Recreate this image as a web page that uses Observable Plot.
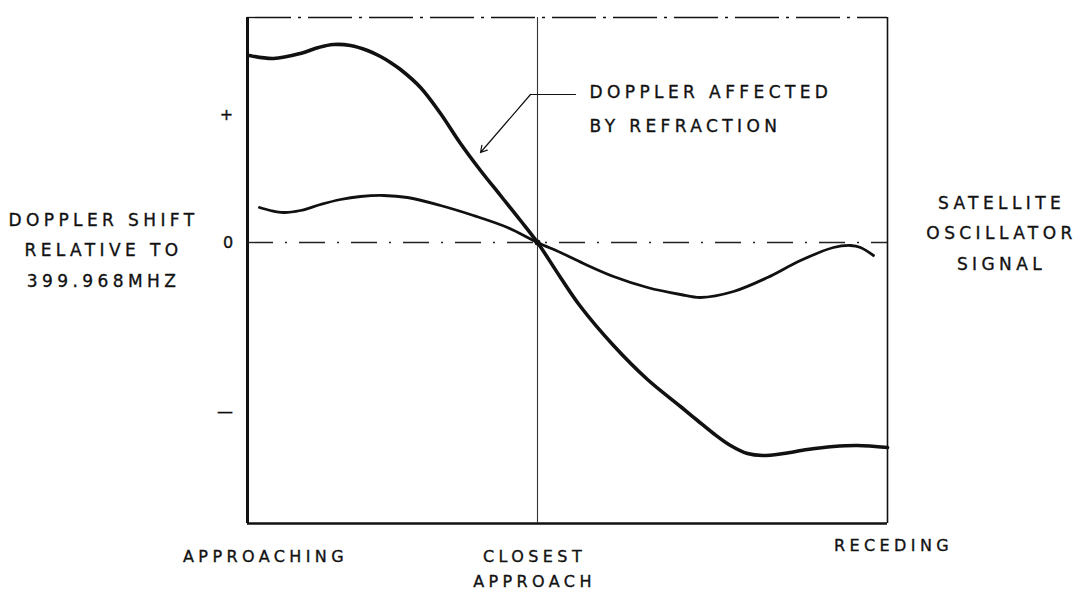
<!DOCTYPE html>
<html>
<head>
<meta charset="utf-8">
<script src="https://cdn.jsdelivr.net/npm/d3@7"></script>
<script src="https://cdn.jsdelivr.net/npm/@observablehq/plot@0.6"></script>
<style>
  html, body { margin: 0; padding: 0; background: #fff; }
  #chart text { letter-spacing: 4.4px; }
</style>
</head>
<body>
<div id="chart"></div>
<script>
// Time relative to closest approach (arbitrary units)
const refractedX = [-28.8, -26.4, -23.7, -21.9, -20.4, -18.7, -17.0, -15.7, -14.7, -13.7, -11.7, -9.7, -7.7, -5.7, -3.7, -1.7, 0, 2.3, 4.3, 7.6, 11.0, 14.3, 16.0, 17.6, 19.3, 21.0, 22.5, 24.6, 27.0, 29.6, 32.0, 35.0];
// Doppler shift affected by refraction (arbitrary units)
const refractedY = [1.87, 1.84, 1.89, 1.95, 1.98, 1.97, 1.92, 1.86, 1.80, 1.73, 1.55, 1.29, 0.99, 0.72, 0.47, 0.22, 0.0, -0.35, -0.64, -1.03, -1.37, -1.64, -1.78, -1.91, -2.03, -2.11, -2.13, -2.11, -2.07, -2.04, -2.03, -2.05];

const signalX = [-27.8, -26.7, -25.4, -23.7, -21.7, -19.7, -17.7, -15.4, -13.0, -9.7, -6.4, -3.0, 0, 2.3, 4.6, 7.6, 11.0, 14.3, 16.3, 19.6, 23.0, 26.3, 29.6, 31.3, 32.3, 33.6];
// Doppler shift of satellite oscillator signal (arbitrary units)
const signalY = [0.35, 0.32, 0.30, 0.32, 0.38, 0.43, 0.46, 0.47, 0.45, 0.37, 0.27, 0.15, 0.0, -0.10, -0.21, -0.34, -0.45, -0.52, -0.55, -0.49, -0.35, -0.18, -0.05, -0.03, -0.05, -0.13];

const yTickValues = [1.28, 0, -1.69];
const yTickLabels = ["+", "0", "—"];

const xTickValues = [-27.2, -0.3, 35.6];
const xTickLabels = ["APPROACHING", "CLOSEST\nAPPROACH", "RECEDING"];

const yAxisTitle = "DOPPLER SHIFT\nRELATIVE TO\n399.968MHZ";
const signalTitle = "SATELLITE\nOSCILLATOR\nSIGNAL";
const annotationText = "DOPPLER AFFECTED\nBY REFRACTION";

const xDomain = [-29, 35];
const yDomain = [-2.81, 2.25];

const refracted = refractedX.map((x, i) => ({x, y: refractedY[i]}));
const signal = signalX.map((x, i) => ({x, y: signalY[i]}));

const ink = "#111";
const font = "DejaVu Sans";
const textStyle = {fill: ink, stroke: ink, strokeWidth: 0.35};

const chart = Plot.plot({
  width: 1087,
  height: 593,
  marginLeft: 247,
  marginRight: 200,
  marginTop: 17,
  marginBottom: 70,
  x: {domain: xDomain, axis: null},
  y: {domain: yDomain, axis: null},
  style: {background: "#fff", fontFamily: font, color: ink},
  marks: [
    // frame
    Plot.ruleY([yDomain[1]], {stroke: ink, strokeWidth: 1.3, strokeDasharray: "44,7,3,7"}),
    Plot.ruleX([xDomain[1]], {stroke: ink, strokeWidth: 1.6}),
    Plot.ruleX([xDomain[0]], {stroke: ink, strokeWidth: 3}),
    Plot.ruleY([yDomain[0]], {stroke: ink, strokeWidth: 2.6}),
    // closest approach and zero reference
    Plot.ruleX([0], {stroke: "#333", strokeWidth: 1.1}),
    Plot.ruleY([0], {stroke: "#222", strokeWidth: 1.4, strokeDasharray: "26,12,2,12"}),
    // curves
    Plot.line(signal, {x: "x", y: "y", curve: "catmull-rom", stroke: ink, strokeWidth: 2.8}),
    Plot.line(refracted, {x: "x", y: "y", curve: "catmull-rom", stroke: ink, strokeWidth: 3.6}),
    Plot.dot([{x: 0, y: 0}], {x: "x", y: "y", r: 3, fill: ink}),
    // annotation leader
    Plot.line([{x: 3.8, y: 1.48}, {x: -0.7, y: 1.48}], {x: "x", y: "y", stroke: ink, strokeWidth: 1.2}),
    Plot.arrow([{x1: -0.7, y1: 1.48, x2: -5.7, y2: 0.90}], {x1: "x1", y1: "y1", x2: "x2", y2: "y2", stroke: ink, strokeWidth: 1.2, headLength: 9}),
    Plot.text([annotationText], {x: 5.2, y: 1.38, text: d => d, textAnchor: "start", lineAnchor: "middle", lineHeight: 2.0, fontSize: 17, ...textStyle}),
    // y tick labels
    Plot.text(yTickValues, {frameAnchor: "left", y: d => d, text: (d, i) => yTickLabels[i], textAnchor: "end", dx: -10, dy: 0, fontSize: 16, ...textStyle}),
    // x labels
    Plot.text([xTickValues[0]], {x: d => d, frameAnchor: "bottom", text: () => xTickLabels[0], lineAnchor: "top", dy: 27, fontSize: 16, ...textStyle}),
    Plot.text([xTickValues[1]], {x: d => d, frameAnchor: "bottom", text: () => xTickLabels[1], lineAnchor: "top", dy: 21, lineHeight: 1.55, fontSize: 16, ...textStyle}),
    Plot.text([xTickValues[2]], {x: d => d, frameAnchor: "bottom", text: () => xTickLabels[2], lineAnchor: "top", dy: 16, fontSize: 16, ...textStyle}),
    // side titles
    Plot.text([yAxisTitle], {x: -43.4, y: -0.04, text: d => d, lineAnchor: "middle", lineHeight: 1.8, fontSize: 17, ...textStyle}),
    Plot.text([signalTitle], {x: 46.4, y: 0.13, text: d => d, lineAnchor: "middle", lineHeight: 1.8, fontSize: 17, ...textStyle})
  ]
});

document.getElementById("chart").append(chart);
</script>
</body>
</html>
